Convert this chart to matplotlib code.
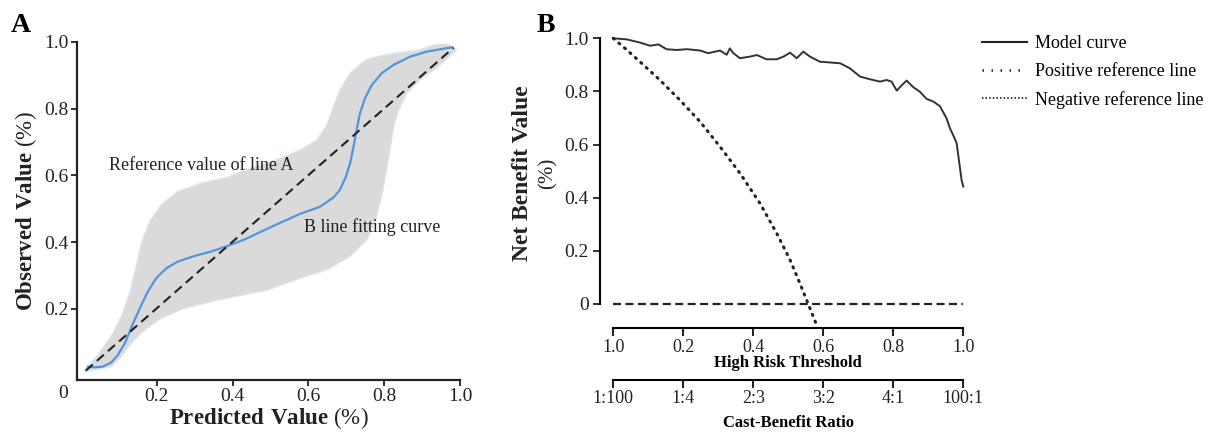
import numpy as np
import matplotlib
matplotlib.use("Agg")
import matplotlib.pyplot as plt
from matplotlib.lines import Line2D

plt.rcParams['font.family'] = ['Liberation Serif', 'DejaVu Serif']
plt.rcParams['mathtext.fontset'] = 'custom'
plt.rcParams['mathtext.rm'] = 'Liberation Serif'
plt.rcParams['mathtext.bf'] = 'Liberation Serif:bold'

# ---------------- Panel A data ----------------
diag_x = [0.012, 0.983]
diag_y = [0.015, 0.983]

fit_x = [0.018, 0.035, 0.057, 0.079, 0.097, 0.115, 0.128, 0.141, 0.159, 0.176, 0.198,
         0.225, 0.255, 0.300, 0.343, 0.387, 0.431, 0.472, 0.525, 0.578, 0.630, 0.666,
         0.683, 0.699, 0.710, 0.718, 0.727, 0.736, 0.749, 0.767, 0.793, 0.824, 0.868,
         0.912, 0.947, 0.978]
fit_y = [0.027, 0.025, 0.027, 0.039, 0.062, 0.097, 0.132, 0.167, 0.212, 0.252, 0.292,
         0.322, 0.342, 0.359, 0.372, 0.389, 0.408, 0.430, 0.458, 0.485, 0.506, 0.534,
         0.557, 0.597, 0.637, 0.680, 0.736, 0.786, 0.831, 0.871, 0.906, 0.931, 0.956,
         0.971, 0.978, 0.984]

band_up_x = [0.009, 0.044, 0.079, 0.106, 0.128, 0.145, 0.159, 0.181, 0.211, 0.255, 0.317,
             0.387, 0.419, 0.472, 0.525, 0.577, 0.622, 0.648, 0.666, 0.683, 0.710, 0.745,
             0.762, 0.824, 0.894, 0.930, 0.965, 0.982]
band_up_y = [0.017, 0.062, 0.117, 0.177, 0.247, 0.327, 0.397, 0.462, 0.512, 0.552, 0.577,
             0.595, 0.611, 0.631, 0.651, 0.676, 0.706, 0.751, 0.806, 0.856, 0.906, 0.941,
             0.951, 0.966, 0.976, 0.991, 0.994, 0.986]
band_lo_x = [0.009, 0.044, 0.079, 0.106, 0.132, 0.168, 0.211, 0.273, 0.361, 0.493, 0.578,
             0.648, 0.710, 0.754, 0.778, 0.795, 0.806, 0.814, 0.821, 0.828, 0.839, 0.859,
             0.894, 0.947, 0.991]
band_lo_y = [0.012, 0.019, 0.027, 0.057, 0.097, 0.137, 0.172, 0.202, 0.227, 0.257, 0.292,
             0.317, 0.357, 0.407, 0.470, 0.547, 0.617, 0.670, 0.720, 0.760, 0.800, 0.846,
             0.886, 0.931, 0.976]

a_ticks = [0.2, 0.4, 0.6, 0.8, 1.0]
a_ticklabels = ['0.2', '0.4', '0.6', '0.8', '1.0']

# ---------------- Panel B data ----------------
model_x = [0, 0.038, 0.076, 0.105, 0.129, 0.152, 0.181, 0.21, 0.248, 0.271, 0.305, 0.324,
           0.333, 0.343, 0.362, 0.39, 0.41, 0.438, 0.467, 0.486, 0.505, 0.524, 0.543,
           0.562, 0.59, 0.629, 0.648, 0.676, 0.705, 0.733, 0.762, 0.781, 0.795, 0.81,
           0.819, 0.838, 0.857, 0.876, 0.895, 0.914, 0.933, 0.952, 0.962, 0.971, 0.981,
           0.99, 0.995, 1.0]
model_y = [1.0, 0.996, 0.984, 0.972, 0.977, 0.959, 0.956, 0.959, 0.954, 0.944, 0.954, 0.938,
           0.962, 0.944, 0.925, 0.931, 0.937, 0.921, 0.921, 0.931, 0.946, 0.925, 0.95,
           0.931, 0.912, 0.908, 0.906, 0.887, 0.856, 0.846, 0.837, 0.843, 0.837, 0.803,
           0.816, 0.841, 0.816, 0.799, 0.772, 0.762, 0.745, 0.699, 0.661, 0.636, 0.605,
           0.517, 0.467, 0.442]

pos_x = [0, 0.038, 0.076, 0.133, 0.19, 0.248, 0.305, 0.362, 0.419, 0.467, 0.505, 0.533,
         0.557, 0.579]
pos_y = [1.0, 0.957, 0.912, 0.843, 0.768, 0.686, 0.592, 0.492, 0.379, 0.266, 0.166, 0.078,
         0.0, -0.073]

neg_x = [0, 1.0]
neg_y = [0, 0]

b_yticks = [0, 0.2, 0.4, 0.6, 0.8, 1.0]
b_yticklabels = ['0', '0.2', '0.4', '0.6', '0.8', '1.0']
threshold_ticks = [0, 0.2, 0.4, 0.6, 0.8, 1.0]
threshold_labels = ['1.0', '0.2', '0.4', '0.6', '0.8', '1.0']
ratio_labels = ['1:100', '1:4', '2:3', '3:2', '4:1', '100:1']

legend_labels = ['Model curve', 'Positive reference line', 'Negative reference line']

W, H = 1210, 432
fig = plt.figure(figsize=(12.1, 4.32), dpi=100)


def fx(px):
    return px / W


def fy(py):
    return 1 - py / H


INK = '#222222'

# ---------------- Panel A ----------------
axA = fig.add_axes([fx(77), fy(380), fx(460) - fx(77), fy(42) - fy(380)])
axA.fill(band_up_x + band_lo_x[::-1], band_up_y + band_lo_y[::-1],
         facecolor='#dadada', edgecolor='#d8e6f3', lw=1.0)
axA.plot(fit_x, fit_y, color='#5196dc', lw=1.6)
axA.plot(diag_x, diag_y, color=INK, lw=1.5, dashes=(4.5, 2.6))
axA.set_xlim(-0.011, 1.0)
axA.set_ylim(-0.013, 1.0)
for s in ['top', 'right']:
    axA.spines[s].set_visible(False)
for s in ['left', 'bottom']:
    axA.spines[s].set_linewidth(1.6)
    axA.spines[s].set_color(INK)
axA.set_xticks(a_ticks)
axA.set_xticklabels(a_ticklabels)
axA.set_yticks(a_ticks)
axA.set_yticklabels(a_ticklabels)
axA.tick_params(direction='out', length=4, width=1.3, labelsize=14, colors=INK, pad=2)
fig.text(fx(63), fy(393), '0', fontsize=14, ha='center', va='center', color=INK)
axA.set_xlabel(r'$\mathbf{Predicted\ Value}$ (%)', fontsize=16.5, labelpad=0, color=INK)
axA.set_ylabel(r'$\mathbf{Observed\ Value}$ (%)', fontsize=16.5, labelpad=4, color=INK)
axA.text(0.074, 0.631, 'Reference value of line A', fontsize=13, va='center', ha='left',
         color=INK)
axA.text(0.588, 0.446, 'B line fitting curve', fontsize=13, va='center', ha='left',
         color=INK)
fig.text(fx(11), fy(25), 'A', fontsize=20, fontweight='bold', va='center', ha='left')

# ---------------- Panel B ----------------
x0, x1 = 613.3, 963.3          # pixel positions of data x=0 and x=1
left_px, right_px = 600, 975
y_top_px, y_bot_px = 35, 328
ppx = (x1 - x0)
ppy = (304 - 38.3)
axB = fig.add_axes([fx(left_px), fy(y_bot_px), fx(right_px) - fx(left_px), fy(y_top_px) - fy(y_bot_px)])
axB.set_xlim((left_px - x0) / ppx, (right_px - x0) / ppx)
axB.set_ylim((304 - y_bot_px) / ppy, (304 - y_top_px) / ppy)
axB.plot(model_x, model_y, color='#333333', lw=1.4)
axB.plot(pos_x, pos_y, color=INK, lw=2.2, linestyle=(0, (0.4, 2.0)), dash_capstyle='round')
axB.plot(neg_x, neg_y, color=INK, lw=1.6, dashes=(3.6, 2.0))
for s in ['top', 'right']:
    axB.spines[s].set_visible(False)
axB.spines['left'].set_bounds(0, 1)
axB.spines['left'].set_linewidth(1.5)
axB.spines['bottom'].set_bounds(0, 1)
axB.spines['bottom'].set_linewidth(1.5)
axB.set_yticks(b_yticks)
axB.set_yticklabels(b_yticklabels)
axB.set_xticks(threshold_ticks)
axB.set_xticklabels(threshold_labels)
axB.tick_params(axis='y', direction='out', length=5, width=1.3, labelsize=14, pad=3, colors=INK)
axB.tick_params(axis='x', direction='out', length=6, width=1.5, labelsize=13, pad=2, colors=INK)
axB.set_xlabel('High Risk Threshold', fontsize=12, fontweight='bold', labelpad=-1)
fig.text(fx(523), fy(173), 'Net Benefit Value', rotation=90, fontsize=17, fontweight='bold',
         ha='center', va='center', color=INK)
fig.text(fx(548), fy(173), '(%)', rotation=90, fontsize=15, ha='center', va='center', color=INK)
fig.text(fx(537), fy(25), 'B', fontsize=20, fontweight='bold', va='center', ha='left')

axR = fig.add_axes([fx(left_px), fy(380), fx(right_px) - fx(left_px), 0.001])
axR.set_xlim(axB.get_xlim())
axR.set_yticks([])
for s in ['top', 'right', 'left']:
    axR.spines[s].set_visible(False)
axR.spines['bottom'].set_bounds(0, 1)
axR.spines['bottom'].set_linewidth(1.5)
axR.set_xticks(threshold_ticks)
axR.set_xticklabels(ratio_labels)
axR.tick_params(axis='x', direction='out', length=6, width=1.5, labelsize=13, pad=1, colors=INK)
axR.patch.set_visible(False)
fig.text((x0 + x1) / 2 / W, fy(423), 'Cast-Benefit Ratio', fontsize=12, fontweight='bold',
         ha='center', va='center')

# ---------------- Legend ----------------
handles = [
    Line2D([], [], color=INK, lw=1.5),
    Line2D([], [], color=INK, lw=1.8, linestyle=(0, (0.6, 3.0))),
    Line2D([], [], color=INK, lw=1.3, linestyle=(0, (0.8, 1.2))),
]
fig.legend(handles, legend_labels, loc='upper left', bbox_to_anchor=(fx(982), fy(35)),
           frameon=False, fontsize=13, handlelength=2.5, handletextpad=0.45,
           labelspacing=0.6, borderaxespad=0, borderpad=0)

fig.savefig('out.png', dpi=100)
